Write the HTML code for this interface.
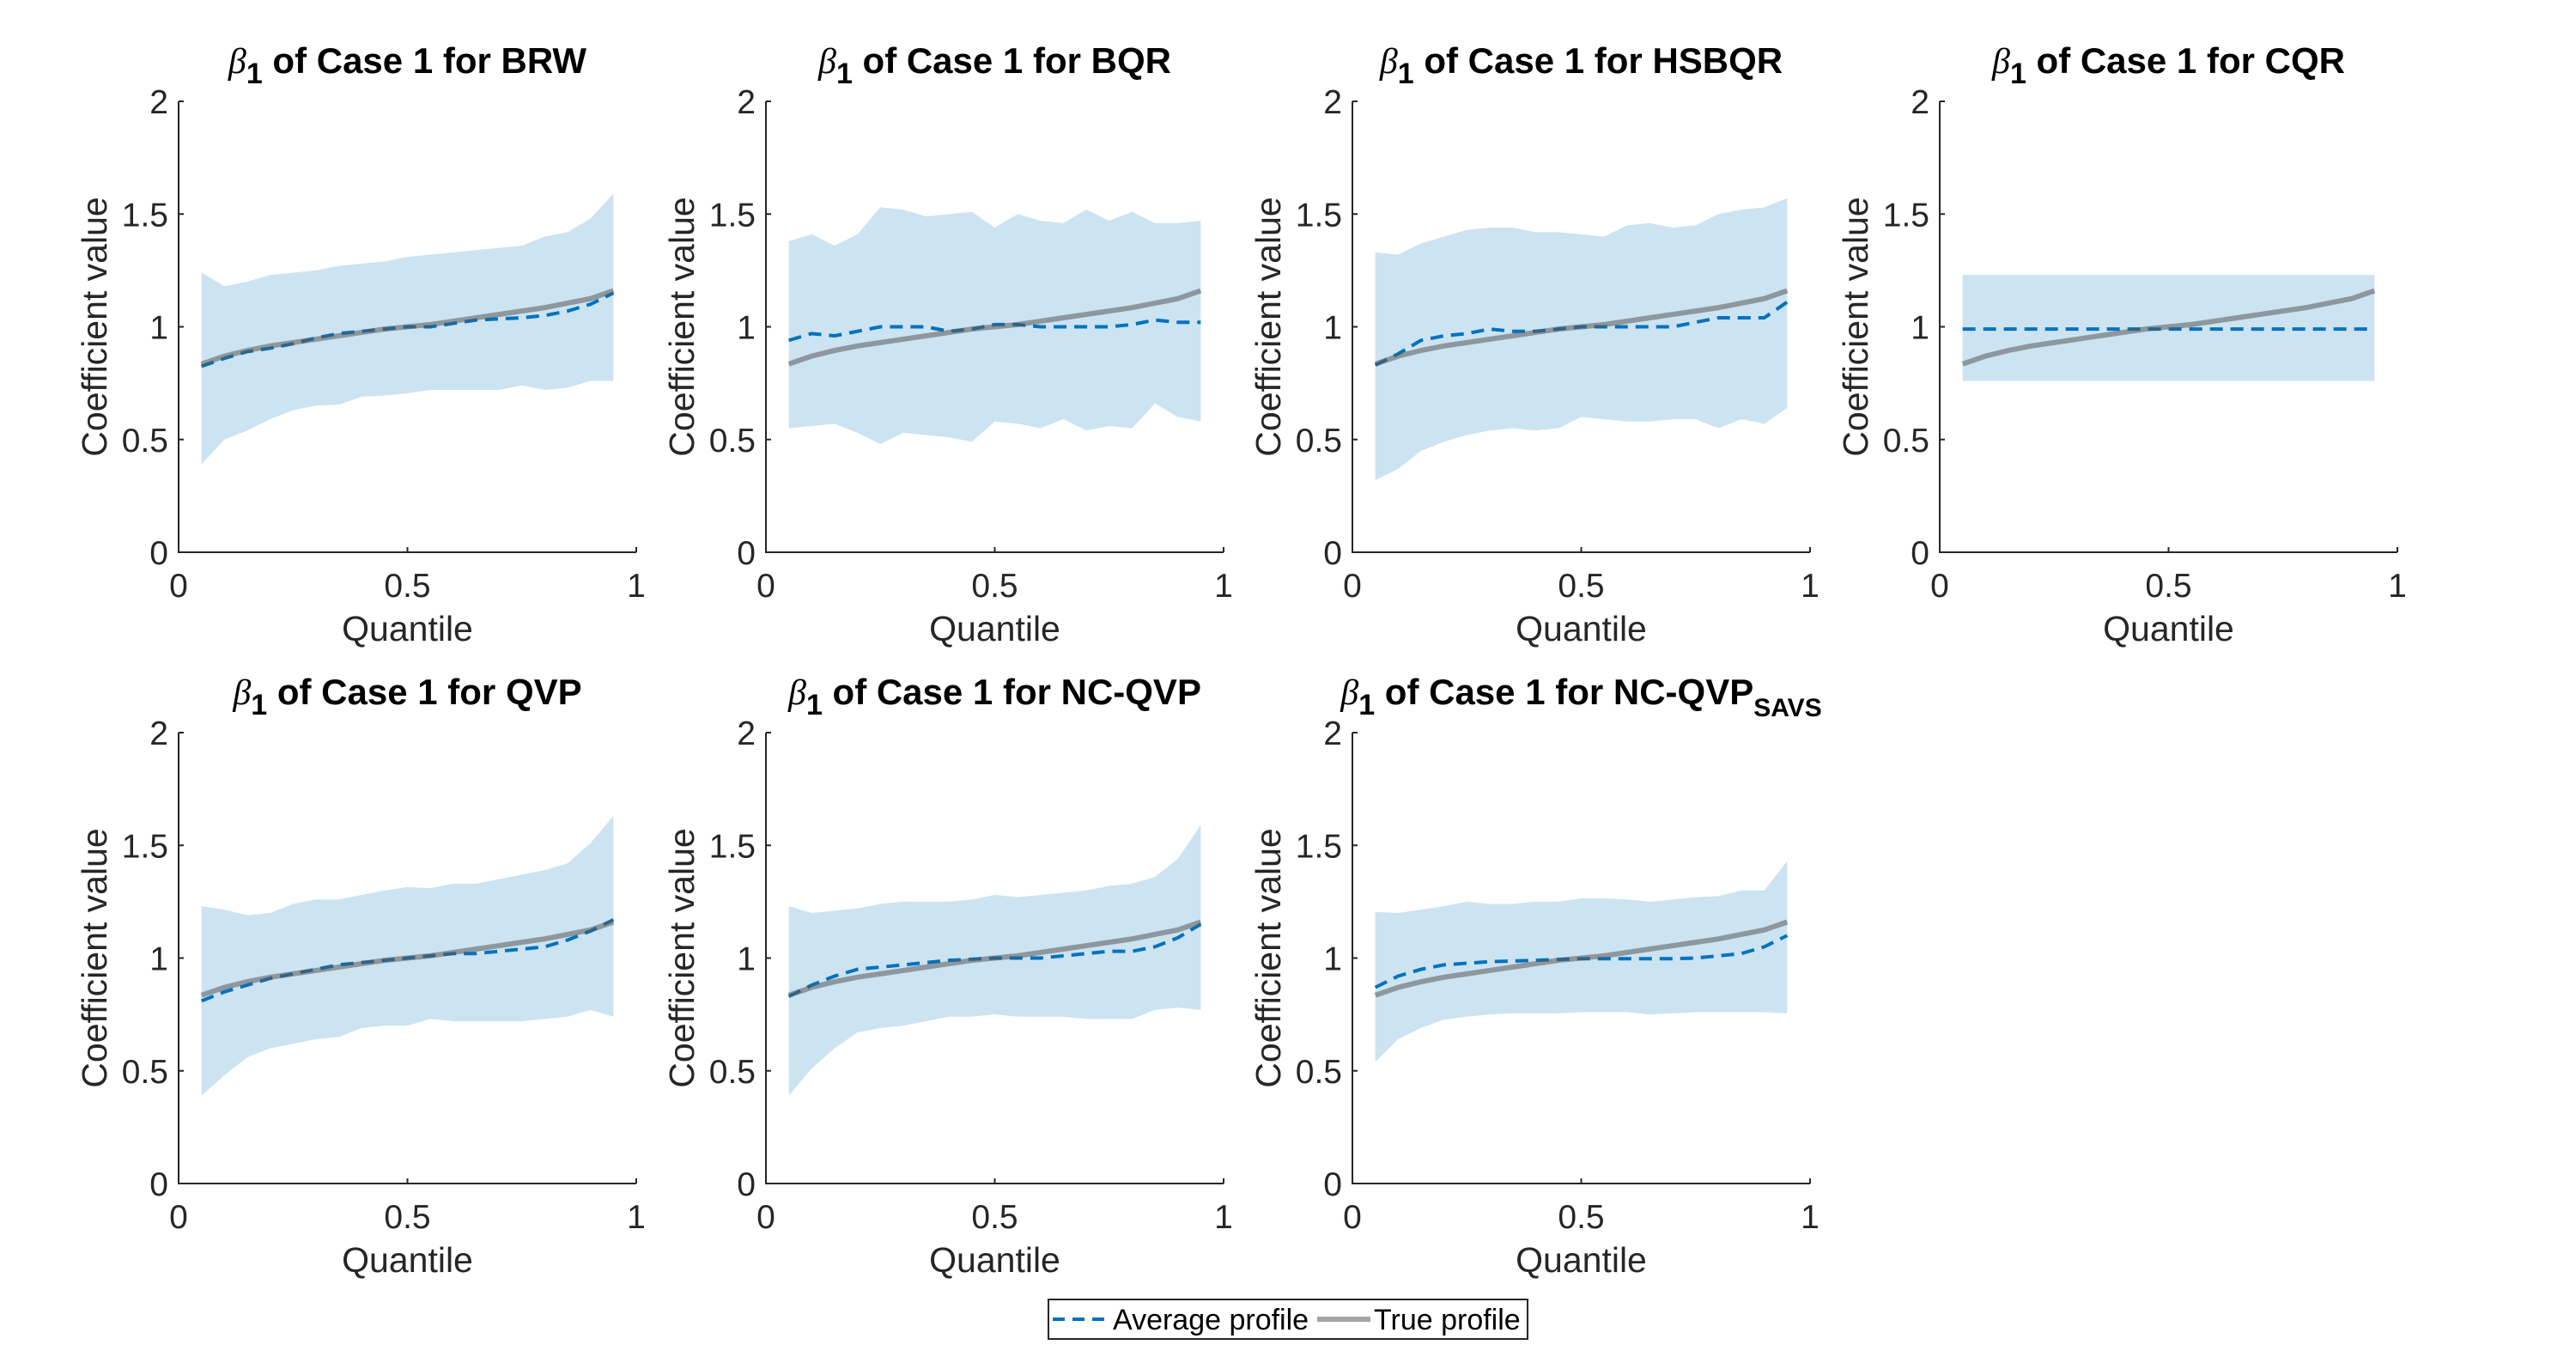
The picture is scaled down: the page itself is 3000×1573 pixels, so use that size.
<!DOCTYPE html>
<html><head><meta charset="utf-8">
<style>
html,body{margin:0;padding:0;background:#fff;}
svg{display:block;font-family:"Liberation Sans",Arial,sans-serif;}
</style></head>
<body>
<svg id="fig" width="3000" height="1573" viewBox="0 0 3000 1573" xmlns="http://www.w3.org/2000/svg">
<g>
  <rect x="1221" y="1513" width="558" height="46" fill="#fff" stroke="#262626" stroke-width="2"/>
  <line x1="1226" y1="1536" x2="1289" y2="1536" stroke="#0072BD" stroke-width="4" stroke-dasharray="14 9"/>
  <text x="1296" y="1548" font-size="34" fill="#000">Average profile</text>
  <line x1="1534" y1="1536" x2="1596" y2="1536" stroke="rgba(90,90,90,0.55)" stroke-width="6"/>
  <text x="1600" y="1548" font-size="34" fill="#000">True profile</text>
</g>
</svg>
<script>
const quantiles=[0.05,0.1,0.15,0.2,0.25,0.3,0.35,0.4,0.45,0.5,0.55,0.6,0.65,0.7,0.75,0.8,0.85,0.9,0.95];
const trueProfile=[0.835,0.87,0.895,0.915,0.93,0.945,0.96,0.975,0.99,1.0,1.01,1.025,1.04,1.055,1.07,1.085,1.105,1.125,1.16];
const methods=["BRW","BQR","HSBQR","CQR","QVP","NC-QVP","NC-QVP_SAVS"];
const upperBRW=[1.24,1.18,1.2,1.23,1.24,1.25,1.27,1.28,1.29,1.31,1.32,1.33,1.34,1.35,1.36,1.4,1.42,1.48,1.59];
const lowerBRW=[0.39,0.5,0.54,0.59,0.63,0.65,0.655,0.69,0.695,0.705,0.72,0.72,0.72,0.72,0.74,0.72,0.73,0.76,0.76];
const avgBRW=[0.825,0.86,0.89,0.905,0.925,0.95,0.97,0.98,0.99,1.0,1.0,1.015,1.03,1.035,1.04,1.05,1.07,1.1,1.15];
const upperBQR=[1.38,1.41,1.36,1.41,1.53,1.52,1.49,1.5,1.51,1.44,1.5,1.47,1.46,1.52,1.47,1.51,1.46,1.46,1.47];
const lowerBQR=[0.55,0.56,0.57,0.53,0.48,0.53,0.52,0.51,0.49,0.58,0.57,0.55,0.59,0.54,0.56,0.55,0.66,0.6,0.58];
const avgBQR=[0.94,0.97,0.96,0.98,1.0,1.0,1.0,0.98,0.99,1.01,1.01,1.0,1.0,1.0,1.0,1.01,1.03,1.02,1.02];
const upperHSBQR=[1.33,1.32,1.37,1.4,1.43,1.44,1.44,1.42,1.42,1.41,1.4,1.45,1.46,1.44,1.45,1.5,1.52,1.53,1.57];
const lowerHSBQR=[0.32,0.37,0.45,0.49,0.52,0.54,0.55,0.54,0.55,0.6,0.59,0.58,0.58,0.59,0.59,0.55,0.59,0.57,0.64];
const avgHSBQR=[0.83,0.88,0.94,0.96,0.97,0.99,0.98,0.98,0.99,1.0,1.0,1.0,1.0,1.0,1.02,1.04,1.04,1.04,1.11];
const upperCQR=[1.23,1.23,1.23,1.23,1.23,1.23,1.23,1.23,1.23,1.23,1.23,1.23,1.23,1.23,1.23,1.23,1.23,1.23,1.23];
const lowerCQR=[0.76,0.76,0.76,0.76,0.76,0.76,0.76,0.76,0.76,0.76,0.76,0.76,0.76,0.76,0.76,0.76,0.76,0.76,0.76];
const avgCQR=[0.99,0.99,0.99,0.99,0.99,0.99,0.99,0.99,0.99,0.99,0.99,0.99,0.99,0.99,0.99,0.99,0.99,0.99,0.99];
const upperQVP=[1.23,1.215,1.19,1.2,1.24,1.26,1.26,1.28,1.3,1.315,1.31,1.33,1.33,1.35,1.37,1.39,1.42,1.51,1.63];
const lowerQVP=[0.39,0.48,0.56,0.6,0.62,0.64,0.65,0.69,0.7,0.7,0.73,0.72,0.72,0.72,0.72,0.73,0.74,0.77,0.74];
const avgQVP=[0.81,0.85,0.88,0.91,0.93,0.95,0.97,0.98,0.99,1.0,1.01,1.02,1.02,1.03,1.04,1.05,1.08,1.12,1.17];
const upperNCQVP=[1.23,1.2,1.21,1.22,1.24,1.25,1.25,1.25,1.26,1.28,1.27,1.28,1.29,1.3,1.32,1.33,1.36,1.44,1.59];
const lowerNCQVP=[0.39,0.51,0.6,0.67,0.69,0.7,0.72,0.74,0.74,0.75,0.74,0.74,0.74,0.73,0.73,0.73,0.77,0.78,0.77];
const avgNCQVP=[0.83,0.88,0.92,0.95,0.96,0.97,0.98,0.99,0.995,1.0,1.0,1.0,1.01,1.02,1.03,1.03,1.05,1.09,1.15];
const upperSAVS=[1.205,1.2,1.215,1.23,1.25,1.24,1.24,1.25,1.25,1.265,1.265,1.26,1.25,1.26,1.27,1.275,1.3,1.3,1.43];
const lowerSAVS=[0.54,0.64,0.69,0.727,0.74,0.75,0.755,0.755,0.755,0.76,0.76,0.76,0.75,0.755,0.76,0.76,0.76,0.76,0.755];
const avgSAVS=[0.87,0.92,0.95,0.97,0.977,0.984,0.987,0.99,0.994,0.997,0.997,0.997,0.997,0.997,1.0,1.01,1.02,1.05,1.1];
const xTicks=[0,0.5,1];
const xTickLabels=["0","0.5","1"];
const yTicks=[0,0.5,1,1.5,2];
const yTickLabels=["0","0.5","1","1.5","2"];

const uppers=[upperBRW,upperBQR,upperHSBQR,upperCQR,upperQVP,upperNCQVP,upperSAVS];
const lowers=[lowerBRW,lowerBQR,lowerHSBQR,lowerCQR,lowerQVP,lowerNCQVP,lowerSAVS];
const avgs=[avgBRW,avgBQR,avgHSBQR,avgCQR,avgQVP,avgNCQVP,avgSAVS];

const NS="http://www.w3.org/2000/svg";
const svg=document.getElementById('fig');
const colLeft=[208,892,1575,2259];
const rowTop=[118,853];
const W=533,H=525;
function mk(tag,attrs,parent){const e=document.createElementNS(NS,tag);for(const k in attrs)e.setAttribute(k,attrs[k]);parent.appendChild(e);return e;}

methods.forEach((m,i)=>{
  const L=colLeft[i%4], T=rowTop[Math.floor(i/4)];
  const sx=v=>L+v*W, sy=v=>T+H-(v/2)*H;
  const g=mk('g',{},svg);
  
  
  let d='M'+quantiles.map((q,k)=>sx(q)+','+sy(uppers[i][k])).join('L');
  for(let k=quantiles.length-1;k>=0;k--) d+='L'+sx(quantiles[k])+','+sy(lowers[i][k]);
  const band=mk('path',{d:d+'Z',fill:'#cce3f1',stroke:'none'},g);
  
  
  const avg=mk('polyline',{points:quantiles.map((q,k)=>sx(q)+','+sy(avgs[i][k])).join(' '),fill:'none',stroke:'#0072BD','stroke-width':4,'stroke-dasharray':'15 9'},g);
  
  
  const tr=mk('polyline',{points:quantiles.map((q,k)=>sx(q)+','+sy(trueProfile[k])).join(' '),fill:'none',stroke:'rgba(90,90,90,0.55)','stroke-width':6},g);
  
  
  const ax=mk('path',{d:`M${L},${T}L${L},${T+H}L${L+W},${T+H}`,fill:'none',stroke:'#262626','stroke-width':2},g);
  
  
  xTicks.forEach((v,k)=>{
    mk('line',{x1:sx(v),y1:T+H,x2:sx(v),y2:T+H-6,stroke:'#262626','stroke-width':2},g);
    const t=mk('text',{x:sx(v),y:T+H+52,'font-size':39,fill:'#262626','text-anchor':'middle'},g);
    t.textContent=xTickLabels[k];
    
    
  });
  yTicks.forEach((v,k)=>{
    mk('line',{x1:L,y1:sy(v),x2:L+6,y2:sy(v),stroke:'#262626','stroke-width':2},g);
    const t=mk('text',{x:L-12,y:sy(v)+14,'font-size':39,fill:'#262626','text-anchor':'end'},g);
    t.textContent=yTickLabels[k];
    
    
  });
  const xl=mk('text',{x:L+W/2,y:T+H+103,'font-size':41,fill:'#262626','text-anchor':'middle'},g);
  xl.textContent='Quantile';
  
  
  const yl=mk('text',{x:0,y:0,'font-size':41,fill:'#262626','text-anchor':'middle',transform:`translate(${L-84},${T+H/2}) rotate(-90)`},g);
  yl.textContent='Coefficient value';
  
  
  const tt=mk('text',{x:L+W/2,y:T-33,'font-size':42,'font-weight':'bold',fill:'#000','text-anchor':'middle'},g);
  
  
  const b=mk('tspan',{'font-family':'"Liberation Serif",serif','font-style':'italic','font-weight':'normal'},tt);b.textContent='β';
  const s1=mk('tspan',{'font-size':34,dy:12},tt);s1.textContent='1';
  const rest=mk('tspan',{dy:-12},tt);
  if(m==='NC-QVP_SAVS'){
    rest.textContent=' of Case 1 for NC-QVP';
    const sub=mk('tspan',{'font-size':30,dy:14},tt);sub.textContent='SAVS';
  } else rest.textContent=' of Case 1 for '+m;
});
</script>
</body></html>
